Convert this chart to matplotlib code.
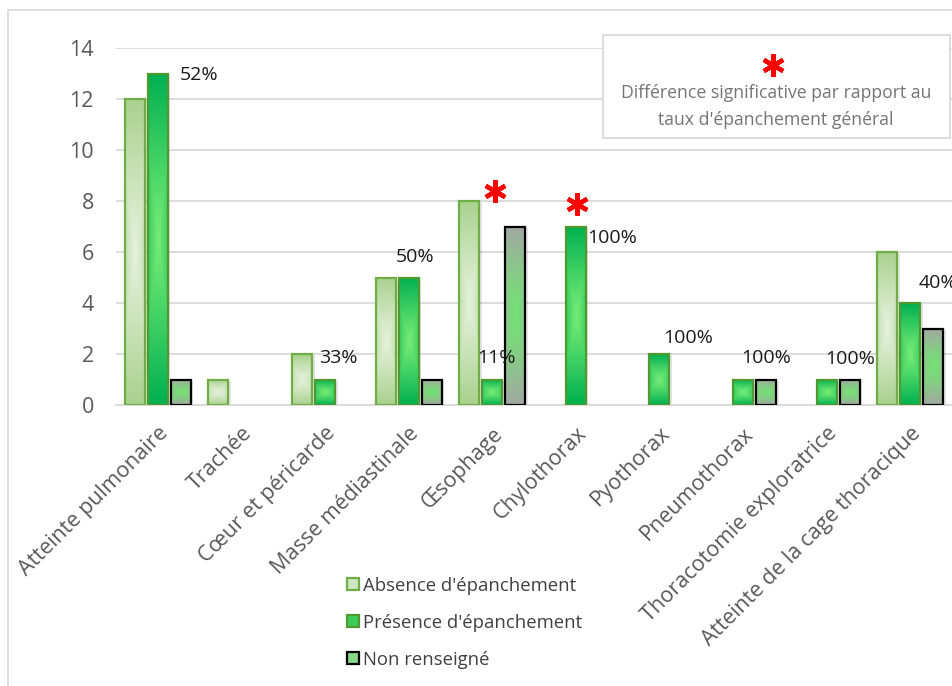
import numpy as np
import matplotlib
matplotlib.use("Agg")
import matplotlib.pyplot as plt
from matplotlib.patches import Rectangle, Patch
from matplotlib.colors import to_rgb

# ---------------- data ----------------
categories = ["Atteinte pulmonaire", "Trachée", "Cœur et péricarde", "Masse médiastinale",
              "Œsophage", "Chylothorax", "Pyothorax", "Pneumothorax",
              "Thoracotomie exploratrice", "Atteinte de la cage thoracique"]
absence = [12, 1, 2, 5, 8, 0, 0, 0, 0, 6]
presence = [13, 0, 1, 5, 1, 7, 2, 1, 1, 4]
non_renseigne = [1, 0, 0, 1, 7, 0, 0, 1, 1, 3]
series_names = ["Absence d'épanchement", "Présence d'épanchement", "Non renseigné"]
pct_labels = ["52%", "", "33%", "50%", "11%", "100%", "100%", "100%", "100%", "40%"]
significant = [False, False, False, False, True, True, False, False, False, False]
yticks = [0, 2, 4, 6, 8, 10, 12, 14]

# ---------------- layout/style ----------------
# label placement (offset in category units, height in data units)
pct_dx = [0.49, 0, 0.16, 0.08, 0.05, 0.43, 0.34, 0.28, 0.28, 0.33]
pct_y = [12.94, 0, 1.84, 5.8, 1.84, 6.55, 2.63, 1.84, 1.80, 4.8]
star_dx = [0, 0, 0, 0, 0.03, 0.02, 0, 0, 0, 0]
star_y = [0, 0, 0, 0, 8.4, 7.9, 0, 0, 0, 0]

styles = [
    dict(edge="#a9d18e", center="#e4f2dc", line="#70ad47"),
    dict(edge="#00b050", center="#76ec76", line="#4f9a2f"),
    dict(edge="#a3a8a3", center="#72e472", line="#000000"),
]

plt.rcParams['font.family'] = ['Open Sans', 'DejaVu Sans']
W, H = 952, 686
fig = plt.figure(figsize=(W / 100, H / 100), dpi=100)
ax = fig.add_axes([116 / W, 1 - 405 / H, (952 - 116) / W, (405 - 48) / H])

# figure border
fig.patches.append(Rectangle((8 / W, -0.1), 1.2, 1 - 10 / H + 0.1, transform=fig.transFigure,
                             fill=False, edgecolor="#d9d9d9", lw=1.2, zorder=0))

bw = 0.24
step = 0.275
offsets = [-step, 0, step]


def grad_bar(xc, h, st):
    if h <= 0:
        return
    x0 = xc - bw / 2
    sh = Rectangle((x0 + 0.03, -0.05), bw, h, facecolor="#000000", alpha=0.10,
                   edgecolor="none", zorder=1.5)
    ax.add_patch(sh)
    rect = Rectangle((x0, 0), bw, h, facecolor="none", edgecolor=st["line"], lw=1.6, zorder=3)
    ax.add_patch(rect)
    ny, nx = 120, 24
    yy = np.linspace(-1, 1, ny)[:, None]
    xx = np.linspace(-1, 1, nx)[None, :]
    t = np.clip(np.maximum(np.abs(yy), np.abs(xx) * 0.55), 0, 1) ** 1.1
    ce = np.array(to_rgb(st["center"]))
    ed = np.array(to_rgb(st["edge"]))
    img = ce[None, None, :] * (1 - t[..., None]) + ed[None, None, :] * t[..., None]
    im = ax.imshow(img, extent=[x0, x0 + bw, 0, h], origin="lower", aspect="auto",
                   zorder=2, interpolation="bilinear")
    im.set_clip_path(rect)


x = np.arange(len(categories))
for s, vals in enumerate([absence, presence, non_renseigne]):
    for i, v in enumerate(vals):
        grad_bar(x[i] + offsets[s], v, styles[s])

ax.set_xlim(-0.5, len(categories) - 0.5)
ax.set_ylim(0, 14)
ax.set_aspect("auto")
ax.set_yticks(yticks)
ax.yaxis.grid(True, color="#d9d9d9", lw=1.3, zorder=0)
ax.set_axisbelow(True)
for sp in ["top", "right", "left"]:
    ax.spines[sp].set_visible(False)
ax.spines["bottom"].set_color("#d9d9d9")
ax.spines["bottom"].set_linewidth(1.3)
ax.tick_params(axis="y", length=0, pad=16, labelsize=15.5, labelcolor="#595959")
ax.tick_params(axis="x", length=0, pad=13, labelsize=15.5, labelcolor="#595959")
ax.set_xticks(x)
ax.set_xticklabels(categories, rotation=45, ha="right", rotation_mode="anchor")
ax.set_facecolor("none")

# percent labels
for i, txt in enumerate(pct_labels):
    if txt:
        ax.text(x[i] + pct_dx[i], pct_y[i], txt, ha="center", va="center", fontsize=14,
                color="#1a1a1a", zorder=5, clip_on=False)

# significance asterisks
for i, sig in enumerate(significant):
    if sig:
        ax.plot([x[i] + star_dx[i]], [star_y[i]], marker=(6, 2, 0), markersize=16,
                mew=3.2, color="#ff0000", zorder=6, clip_on=False)

# annotation box
fig.patches.append(Rectangle((603 / W, 1 - 138 / H), (950 - 603) / W, (138 - 35) / H,
                             transform=fig.transFigure, facecolor="white",
                             edgecolor="#d9d9d9", lw=1.3, zorder=4))
fig.lines.append(plt.Line2D([773 / W], [1 - 65 / H], marker=(6, 2, 0), markersize=16, mew=3.2,
                            color="#ff0000", transform=fig.transFigure, zorder=6))
fig.text(776 / W, 1 - 93 / H, "Différence significative par rapport au", ha="center",
         va="center", fontsize=12.7, color="#757575", zorder=6)
fig.text(776 / W, 1 - 120 / H, "taux d'épanchement général", ha="center",
         va="center", fontsize=12.7, color="#757575", zorder=6)

# legend
handles = [Patch(facecolor=st["center"], edgecolor=st["line"], lw=1.6, label=n)
           for st, n in zip(styles, series_names)]
handles[0].set_facecolor("#cfe6c0")
handles[1].set_facecolor("#3ccc5a")
handles[2].set_facecolor("#86d886")
leg = fig.legend(handles=handles, loc="upper left", bbox_to_anchor=(330 / W, 1 - 560 / H),
                 frameon=False, fontsize=13.3, labelspacing=1.03, handlelength=0.65,
                 handleheight=0.65, handletextpad=0.25, labelcolor="#404040")

fig.savefig("out.png", dpi=100)
